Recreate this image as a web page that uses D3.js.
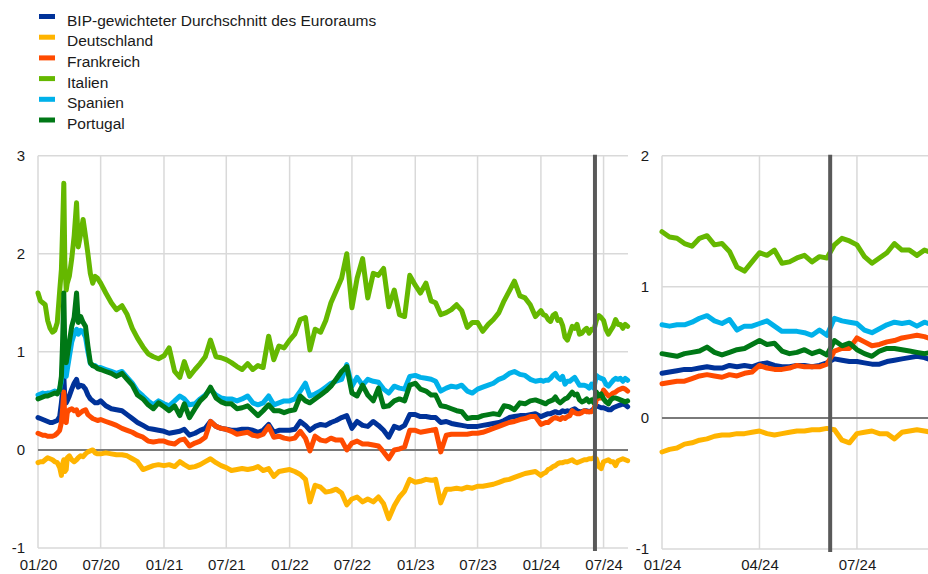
<!DOCTYPE html>
<html>
<head>
<meta charset="utf-8">
<script src="https://cdn.jsdelivr.net/npm/d3@7"></script>
<style>
  body { margin: 0; background: #fff; }
  svg { display: block; font-family: Arial, "Liberation Sans", sans-serif; }
</style>
</head>
<body>
<svg id="chart" width="928" height="574"></svg>
<script>
// DATA: dates (weekly around the 2020 spike, then twice a month) up to end of 2023
const datesHist = [
  "2020-01-01","2020-01-08","2020-01-15","2020-01-22","2020-01-29","2020-02-05","2020-02-12","2020-02-19","2020-02-26",
  "2020-03-04","2020-03-09","2020-03-12","2020-03-16","2020-03-19","2020-03-23","2020-03-26","2020-04-01","2020-04-08",
  "2020-04-15","2020-04-22","2020-04-27","2020-05-04","2020-05-11","2020-05-18","2020-05-25","2020-06-01","2020-06-08",
  "2020-06-15","2020-06-22",
  "2020-07-01","2020-07-16","2020-08-01","2020-08-16","2020-09-01","2020-09-16","2020-10-01","2020-10-16","2020-11-01","2020-11-16","2020-12-01","2020-12-16",
  "2021-01-01","2021-01-16","2021-02-01","2021-02-16","2021-03-01","2021-03-16","2021-04-01","2021-04-16","2021-05-01","2021-05-16","2021-06-01","2021-06-16",
  "2021-07-01","2021-07-16","2021-08-01","2021-08-16","2021-09-01","2021-09-16","2021-10-01","2021-10-16","2021-11-01","2021-11-16","2021-12-01","2021-12-16",
  "2022-01-01","2022-01-16","2022-02-01","2022-02-16","2022-03-01","2022-03-16","2022-04-01","2022-04-16","2022-05-01","2022-05-16","2022-06-01","2022-06-16",
  "2022-07-01","2022-07-16","2022-08-01","2022-08-16","2022-09-01","2022-09-16","2022-10-01","2022-10-16","2022-11-01","2022-11-16","2022-12-01","2022-12-16",
  "2023-01-01","2023-01-16","2023-02-01","2023-02-16","2023-03-01","2023-03-16","2023-04-01","2023-04-16","2023-05-01","2023-05-16","2023-06-01","2023-06-16",
  "2023-07-01","2023-07-16","2023-08-01","2023-08-16","2023-09-01","2023-09-16","2023-10-01","2023-10-16","2023-11-01","2023-11-16","2023-12-01","2023-12-16"
];

// DATA: weekly dates 2024 (shown in both panels)
const dates2024 = [
  "2024-01-01","2024-01-08","2024-01-15","2024-01-22","2024-01-29","2024-02-05","2024-02-12","2024-02-19","2024-02-26",
  "2024-03-04","2024-03-11","2024-03-18","2024-03-25","2024-04-01","2024-04-08","2024-04-15","2024-04-22","2024-04-29",
  "2024-05-06","2024-05-13","2024-05-20","2024-05-27","2024-06-03","2024-06-10","2024-06-17","2024-06-24","2024-07-01",
  "2024-07-08","2024-07-15","2024-07-22","2024-07-29","2024-08-05","2024-08-12","2024-08-19","2024-08-26","2024-09-02","2024-09-09"
];

// series values (percentage points)
const bipHist = [
  0.33,0.32,0.31,0.30,0.29,0.28,0.28,0.29,0.30,0.34,0.48,0.58,0.75,0.52,0.48,0.50,0.55,0.62,0.68,0.72,0.64,0.66,0.65,0.62,0.56,0.52,0.50,0.48,0.48,
  0.50,0.45,0.42,0.41,0.40,0.36,0.32,0.28,0.25,0.22,0.21,0.20,
  0.19,0.17,0.18,0.19,0.21,0.15,0.17,0.20,0.22,0.29,0.24,0.22,0.21,0.20,0.20,0.21,0.21,0.20,0.18,0.20,0.26,0.18,0.20,0.20,
  0.20,0.21,0.29,0.25,0.20,0.24,0.26,0.25,0.28,0.30,0.33,0.35,0.22,0.29,0.25,0.24,0.29,0.25,0.20,0.13,0.24,0.22,0.25,0.36,
  0.36,0.34,0.34,0.33,0.33,0.28,0.29,0.27,0.26,0.25,0.24,0.24,0.24,0.25,0.26,0.27,0.28,0.30,0.33,0.34,0.35,0.35,0.36,0.37
];
const deHist = [
  -0.13,-0.12,-0.12,-0.10,-0.08,-0.09,-0.10,-0.12,-0.13,-0.18,-0.26,-0.15,-0.10,-0.22,-0.20,-0.08,-0.06,-0.10,-0.12,-0.10,-0.08,-0.06,-0.07,-0.04,-0.02,-0.01,0.00,-0.03,-0.04,
  -0.04,-0.03,-0.04,-0.05,-0.05,-0.06,-0.09,-0.12,-0.20,-0.18,-0.16,-0.15,
  -0.16,-0.15,-0.17,-0.12,-0.15,-0.18,-0.17,-0.15,-0.12,-0.09,-0.13,-0.16,-0.18,-0.21,-0.20,-0.19,-0.20,-0.19,-0.17,-0.21,-0.19,-0.27,-0.22,-0.21,
  -0.20,-0.22,-0.25,-0.30,-0.53,-0.36,-0.38,-0.43,-0.42,-0.40,-0.44,-0.56,-0.50,-0.48,-0.53,-0.50,-0.53,-0.48,-0.55,-0.70,-0.57,-0.48,-0.42,-0.30,
  -0.33,-0.32,-0.30,-0.31,-0.30,-0.54,-0.40,-0.40,-0.39,-0.40,-0.38,-0.39,-0.37,-0.37,-0.36,-0.35,-0.33,-0.31,-0.30,-0.28,-0.26,-0.24,-0.23,-0.22
];
const frHist = [
  0.17,0.16,0.15,0.15,0.14,0.14,0.14,0.15,0.17,0.20,0.28,0.40,0.59,0.30,0.28,0.38,0.41,0.42,0.40,0.41,0.36,0.38,0.40,0.41,0.36,0.34,0.32,0.31,0.30,
  0.31,0.29,0.27,0.25,0.22,0.20,0.18,0.15,0.13,0.09,0.08,0.09,
  0.09,0.07,0.06,0.10,0.11,0.04,0.07,0.09,0.13,0.29,0.24,0.22,0.21,0.19,0.16,0.17,0.18,0.15,0.14,0.16,0.24,0.13,0.14,0.12,
  0.11,0.12,0.19,0.12,-0.01,0.14,0.10,0.09,0.12,0.10,0.10,0.00,0.07,0.09,0.06,0.06,0.05,0.04,-0.02,-0.09,0.00,0.01,0.03,0.20,
  0.20,0.18,0.19,0.20,0.21,-0.02,0.15,0.16,0.16,0.16,0.16,0.17,0.17,0.18,0.20,0.22,0.24,0.26,0.28,0.29,0.31,0.32,0.34,0.34
];
const itHist = [
  1.60,1.52,1.50,1.48,1.32,1.24,1.20,1.22,1.30,1.62,1.84,2.20,2.72,1.90,1.63,1.70,1.77,1.95,2.18,2.52,2.07,2.20,2.35,2.18,2.00,1.80,1.70,1.77,1.75,
  1.70,1.60,1.50,1.43,1.47,1.38,1.24,1.14,1.05,0.98,0.95,0.93,
  0.96,1.04,0.80,0.74,0.90,0.75,0.82,0.88,0.95,1.12,0.95,0.94,0.92,0.89,0.85,0.82,0.88,0.82,0.86,0.84,1.16,0.92,1.06,1.04,
  1.12,1.18,1.33,1.35,1.02,1.23,1.20,1.32,1.50,1.62,1.75,2.00,1.45,1.75,1.95,1.55,1.80,1.78,1.85,1.46,1.63,1.38,1.36,1.78,
  1.68,1.60,1.70,1.52,1.50,1.38,1.40,1.43,1.48,1.42,1.25,1.30,1.30,1.21,1.28,1.33,1.40,1.52,1.62,1.72,1.57,1.55,1.48,1.36
];
const esHist = [
  0.56,0.57,0.58,0.57,0.58,0.58,0.59,0.60,0.58,0.62,0.70,0.85,1.05,0.80,0.75,0.82,0.95,1.10,1.18,1.23,1.18,1.22,1.20,1.15,1.00,0.88,0.86,0.86,0.84,
  0.84,0.82,0.80,0.78,0.80,0.74,0.68,0.60,0.55,0.50,0.46,0.50,
  0.47,0.45,0.50,0.55,0.52,0.46,0.47,0.52,0.56,0.62,0.56,0.53,0.52,0.52,0.50,0.52,0.55,0.48,0.46,0.48,0.55,0.46,0.48,0.50,
  0.50,0.52,0.60,0.68,0.55,0.57,0.60,0.64,0.68,0.70,0.72,0.87,0.65,0.74,0.66,0.72,0.70,0.69,0.62,0.58,0.65,0.63,0.62,0.75,
  0.76,0.74,0.73,0.72,0.70,0.60,0.63,0.65,0.64,0.66,0.60,0.58,0.62,0.64,0.66,0.68,0.72,0.74,0.78,0.80,0.77,0.76,0.72,0.70
];
const ptHist = [
  0.52,0.53,0.54,0.55,0.55,0.56,0.57,0.58,0.57,0.62,0.75,1.05,1.60,1.00,0.89,0.96,1.10,1.26,1.35,1.60,1.30,1.36,1.30,1.26,1.06,0.89,0.86,0.85,0.83,
  0.82,0.80,0.78,0.75,0.78,0.72,0.66,0.56,0.52,0.46,0.42,0.48,
  0.44,0.40,0.45,0.35,0.47,0.33,0.42,0.50,0.55,0.64,0.53,0.49,0.47,0.47,0.42,0.43,0.45,0.40,0.35,0.40,0.46,0.40,0.40,0.38,
  0.40,0.41,0.55,0.50,0.48,0.52,0.56,0.60,0.65,0.72,0.80,0.85,0.58,0.55,0.66,0.56,0.50,0.63,0.44,0.45,0.50,0.52,0.50,0.66,
  0.68,0.62,0.60,0.56,0.56,0.45,0.44,0.42,0.40,0.39,0.32,0.33,0.33,0.35,0.36,0.37,0.36,0.45,0.44,0.41,0.48,0.47,0.50,0.51
];

const bip2024 = [0.34,0.35,0.36,0.37,0.37,0.38,0.39,0.38,0.38,0.40,0.39,0.40,0.39,0.41,0.42,0.40,0.39,0.39,0.40,0.40,0.39,0.40,0.42,0.45,0.44,0.43,0.43,0.42,0.41,0.41,0.43,0.44,0.45,0.46,0.47,0.46,0.44];
const de2024 = [-0.26,-0.24,-0.23,-0.20,-0.19,-0.17,-0.16,-0.14,-0.13,-0.13,-0.12,-0.12,-0.11,-0.10,-0.12,-0.13,-0.12,-0.11,-0.10,-0.10,-0.09,-0.09,-0.08,-0.09,-0.17,-0.19,-0.12,-0.11,-0.10,-0.12,-0.12,-0.16,-0.11,-0.10,-0.09,-0.10,-0.11];
const fr2024 = [0.26,0.27,0.28,0.28,0.30,0.32,0.33,0.32,0.31,0.33,0.32,0.34,0.35,0.40,0.38,0.37,0.37,0.38,0.40,0.39,0.39,0.39,0.41,0.51,0.53,0.53,0.61,0.58,0.55,0.56,0.58,0.59,0.61,0.62,0.63,0.62,0.60];
const it2024 = [1.42,1.38,1.37,1.33,1.31,1.37,1.39,1.32,1.33,1.27,1.15,1.12,1.19,1.26,1.24,1.28,1.18,1.19,1.22,1.24,1.19,1.23,1.22,1.32,1.37,1.35,1.32,1.23,1.18,1.22,1.26,1.33,1.28,1.28,1.24,1.28,1.26];
const es2024 = [0.71,0.70,0.71,0.71,0.73,0.76,0.78,0.74,0.72,0.75,0.67,0.70,0.70,0.72,0.74,0.70,0.66,0.66,0.66,0.65,0.63,0.67,0.63,0.76,0.74,0.73,0.72,0.67,0.65,0.68,0.71,0.73,0.72,0.73,0.70,0.73,0.71];
const pt2024 = [0.49,0.48,0.47,0.49,0.50,0.51,0.54,0.50,0.48,0.50,0.52,0.53,0.56,0.59,0.56,0.57,0.51,0.49,0.50,0.52,0.49,0.51,0.48,0.59,0.55,0.57,0.52,0.49,0.47,0.51,0.53,0.53,0.52,0.51,0.50,0.49,0.50];

// legend names, colours
const seriesNames = ["BIP-gewichteter Durchschnitt des Euroraums", "Deutschland", "Frankreich", "Italien", "Spanien", "Portugal"];
const seriesColors = ["#003299", "#ffb400", "#ff4b00", "#65b800", "#00b1ea", "#007816"];

// ticks
const leftXTicks = ["2020-01-01","2020-07-01","2021-01-01","2021-07-01","2022-01-01","2022-07-01","2023-01-01","2023-07-01","2024-01-01","2024-07-01"];
const rightXTicks = ["2024-01-01","2024-04-01","2024-07-01"];
const leftYTicks = [-1, 0, 1, 2, 3];
const rightYTicks = [-1, 0, 1, 2];
const eventDate = "2024-06-06";

///////////////////////////////////////////////////////

const parse = d3.timeParse("%Y-%m-%d");
const svg = d3.select("#chart");
const labelRowY = 559; // top of x tick labels, same row for both panels

const histSets = [bipHist, deHist, frHist, itHist, esHist, ptHist];
const recentSets = [bip2024, de2024, fr2024, it2024, es2024, pt2024];

const series = seriesNames.map((name, k) => ({
    name: name,
    color: seriesColors[k],
    hist: datesHist.map((d, i) => ({ date: parse(d), value: histSets[k][i] })),
    recent: dates2024.map((d, i) => ({ date: parse(d), value: recentSets[k][i] }))
}));

// FUNCTION render one panel
function renderPanel(cfg) {
    const x = d3.scaleTime().domain(cfg.xDomain.map(parse)).range(cfg.xRange);
    const y = d3.scaleLinear().domain(cfg.yDomain).range(cfg.yRange);

    const g = svg.append("g");
    const left = cfg.xRange[0];
    const top = y(cfg.yDomain[1]);
    const bottom = y(cfg.yDomain[0]);

    // vertical grid
    g.selectAll(".vgrid")
        .data(cfg.xTicks.map(parse))
        .join("line")
        .attr("x1", d => x(d)).attr("x2", d => x(d))
        .attr("y1", top).attr("y2", bottom)
        .attr("stroke", "#d9d9d9")
        .attr("stroke-width", 1.5);

    // horizontal grid (zero line darker)
    g.selectAll(".hgrid")
        .data(cfg.yTicks)
        .join("line")
        .attr("x1", left).attr("x2", cfg.gridRight)
        .attr("y1", d => y(d)).attr("y2", d => y(d))
        .attr("stroke", d => d === 0 ? "#7a7a7a" : "#d9d9d9")
        .attr("stroke-width", d => d === 0 ? 2 : 1.5);

    // y labels
    g.append("g")
        .attr("transform", `translate(${left},0)`)
        .call(d3.axisLeft(y).tickValues(cfg.yTicks).tickSize(0).tickPadding(13).tickFormat(d => String(d)))
        .call(a => a.select(".domain").remove())
        .selectAll("text")
        .attr("font-size", 15)
        .attr("fill", "#1a1a1a");

    // x labels
    g.append("g")
        .attr("transform", `translate(0,${labelRowY})`)
        .call(d3.axisBottom(x).tickValues(cfg.xTicks.map(parse)).tickSize(0).tickPadding(0).tickFormat(d3.timeFormat("%m/%y")))
        .call(a => a.select(".domain").remove())
        .selectAll("text")
        .attr("font-size", 15)
        .attr("fill", "#1a1a1a");

    // lines
    const line = d3.line()
        .x(d => x(d.date))
        .y(d => y(d.value));

    g.selectAll(".series")
        .data(series)
        .join("path")
        .attr("class", "series")
        .attr("fill", "none")
        .attr("stroke", d => d.color)
        .attr("stroke-width", 5)
        .attr("stroke-linejoin", "round")
        .attr("stroke-linecap", "round")
        .attr("d", d => line(cfg.pick(d)));

    // event line
    const ex = x(parse(eventDate));
    g.append("line")
        .attr("x1", ex).attr("x2", ex)
        .attr("y1", top - 1).attr("y2", bottom + 3)
        .attr("stroke", "#595959")
        .attr("stroke-width", 4);
}

renderPanel({
    xDomain: ["2020-01-01", "2024-09-10"],
    xRange: [38, 628],
    yDomain: [-1, 3],
    yRange: [548, 155.7],
    gridRight: 628,
    xTicks: leftXTicks,
    yTicks: leftYTicks,
    pick: s => s.hist.concat(s.recent)
});

renderPanel({
    xDomain: ["2024-01-01", "2024-09-10"],
    xRange: [662, 933],
    yDomain: [-1, 2],
    yRange: [549, 155.7],
    gridRight: 928,
    xTicks: rightXTicks,
    yTicks: rightYTicks,
    pick: s => s.recent
});

// legend
const legend = svg.append("g");
const rows = legend.selectAll(".row")
    .data(series)
    .join("g")
    .attr("transform", (d, i) => `translate(39,${14 + i * 20.7})`);

rows.append("rect")
    .attr("width", 16).attr("height", 5)
    .attr("fill", d => d.color);

rows.append("text")
    .attr("x", 28).attr("y", 11.5)
    .attr("font-size", 15.5)
    .attr("fill", "#1a1a1a")
    .text(d => d.name);
</script>
</body>
</html>
